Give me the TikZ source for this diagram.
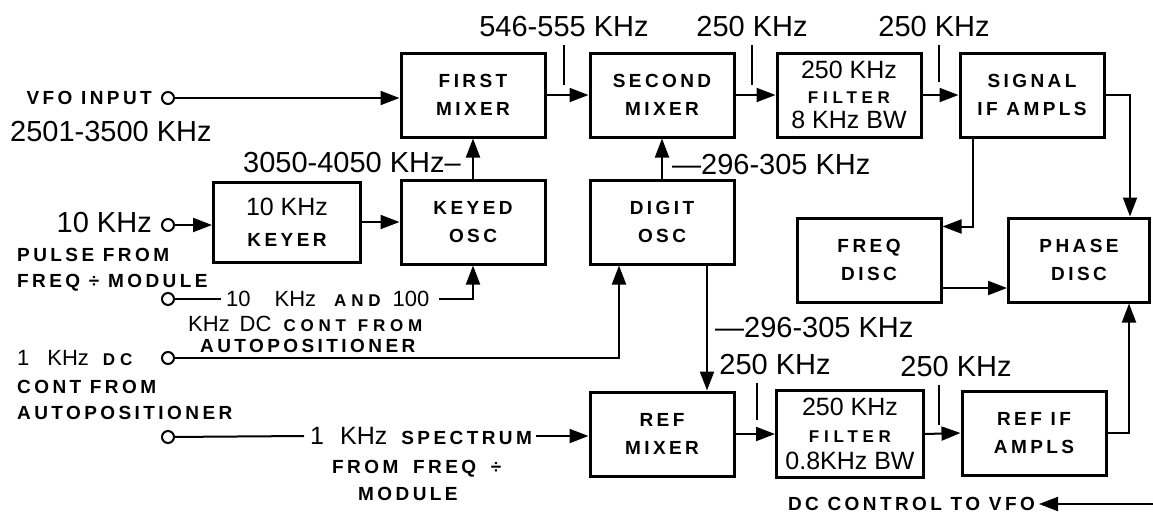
\documentclass[tikz,border=0pt]{standalone}
\usepackage{fontspec}
\setmainfont{Liberation Sans}
\newfontfamily\capsfont{Liberation Sans}[LetterSpace=18]
\newfontfamily\widecaps{Liberation Sans}[LetterSpace=28]
\usetikzlibrary{arrows.meta}

\newcommand{\numfont}{\normalfont\fontsize{29}{29}\selectfont}
\newcommand{\boxnum}{\normalfont\fontsize{25}{25}\selectfont}
\newcommand{\midnum}{\normalfont\fontsize{22}{22}\selectfont}
\newcommand{\lblfont}{\capsfont\bfseries\fontsize{19}{28}\selectfont}
\newcommand{\lblsmall}{\capsfont\bfseries\fontsize{19}{20}\selectfont}
\newcommand{\smlfont}{\widecaps\bfseries\fontsize{17}{17}\selectfont}

\begin{document}
\begin{tikzpicture}[x=1pt, y=-1pt,
  blk/.style={draw, line width=3pt, minimum width=\bw pt, minimum height=\bh pt,
              inner sep=0pt, align=center, font=\lblfont},
  flow/.style={line width=2pt, -{Triangle[length=19pt,width=14pt]}},
  wire/.style={line width=2pt},
  jack/.style={circle, draw, line width=2pt, minimum size=12pt, inner sep=0pt},
  leader/.style={line width=1.5pt},
  caps/.style={font=\lblfont, inner sep=0pt},
  num/.style={font=\numfont, inner sep=0pt}]

% --- box size ---
\pgfmathsetmacro{\bw}{144}
\pgfmathsetmacro{\bh}{84}

\useasboundingbox (0,0) rectangle (1153,515);

% --- blocks ---
\foreach \nm/\cx/\cy/\txt in
  {first/473/95/{FIRST\\MIXER}, second/662/95/{SECOND\\MIXER},
   sigif/1032/95/{SIGNAL\\IF AMPLS},
   keyed/473/222/{KEYED\\OSC}, digit/662/222/{DIGIT\\OSC},
   freq/869/260/{FREQ\\DISC},
   refmix/662/434/{REF\\MIXER}, refif/1034/433/{REF IF\\AMPLS}}{%
  \node[blk] (\nm) at (\cx,\cy) {\txt};
}
\node[blk, minimum width=141pt] (phase) at (1079,260) {PHASE\\DISC};
\node[blk, minimum width=147pt, minimum height=80pt,
      font=\lblfont\fontsize{19}{31}\selectfont] (keyer) at (287,222)
  {{\boxnum 10 KHz}\\KEYER};
\node[blk, font=\widecaps\bfseries\fontsize{17}{25}\selectfont] (filt1) at (849,95)
  {{\boxnum 250 KHz}\\FILTER\\{\boxnum 8 KHz BW}};
\node[blk, minimum width=147pt, minimum height=87pt,
      font=\widecaps\bfseries\fontsize{17}{27}\selectfont] (filt2) at (850,434)
  {{\boxnum 250 KHz}\\FILTER\\{\boxnum 0.8KHz BW}};

% --- input jacks ---
\foreach \nm/\cy in {jVfo/98, jPulse/225, jTen/299, jOne/358, jSpec/437}
  \node[jack] (\nm) at (168,\cy) {};

% --- left labels ---
\node[caps, anchor=east] (lVfo) at (152,98) {VFO INPUT};
\node[num, anchor=west] (lRange) at (10,132) {2501-3500 KHz};
\node[num, anchor=east] (lTen) at (152,223) {10 KHz};
\node[caps, anchor=west] (lPulse) at (17,255) {PULSE FROM};
\node[caps, anchor=west] (lMod) at (17,283) {FREQ ÷ MODULE};
\node[anchor=west, inner sep=0pt] (lOne) at (17,358)
  {\midnum 1\hspace{18pt}KHz\hspace{14pt}{\smlfont DC}};
\node[caps, anchor=west] (lCont) at (17,387) {CONT FROM};
\node[caps, anchor=west] (lAuto) at (17,413) {AUTOPOSITIONER};

\node[anchor=west, inner sep=0pt] (tTen) at (226,299)
  {\midnum 10\hspace{24pt}KHz\hspace{18pt}{\smlfont AND}\hspace{12pt}100};
\node[anchor=west, inner sep=0pt] (tTenB) at (188,324)
  {\midnum KHz\hspace{10pt}DC\hspace{12pt}{\smlfont CONT\hspace{12pt}FROM}};
\node[caps, anchor=west] (tTenC) at (200,346) {AUTOPOSITIONER};
\node[anchor=west, inner sep=0pt] (tSpec) at (310,436)
  {\boxnum 1\hspace{16pt}KHz\hspace{14pt}{\lblsmall SPECTRUM}};
\node[caps, anchor=west] (tSpecB) at (332,469) {FROM\hspace{6pt} FREQ\hspace{6pt} ÷};
\node[caps, anchor=west] (tSpecC) at (358,494) {MODULE};

% --- frequency labels ---
\node[num] (fA) at (564,27) {546-555 KHz};
\node[num] (fB) at (752,27) {250 KHz};
\node[num] (fC) at (934,27) {250 KHz};
\node[num] (fD) at (775,365) {250 KHz};
\node[num] (fE) at (956,367) {250 KHz};
\node[num, anchor=east] (fKey) at (461,163) {3050-4050 KHz–};
\node[num, anchor=west] (fDig) at (672,165) {—296-305 KHz};
\node[num, anchor=west] (fRef) at (715,328) {—296-305 KHz};

\draw[leader] ([yshift=-8pt]fA.south) -- ++(0,40);
\draw[leader] ([yshift=-8pt]fB.south) -- ++(0,40);
\draw[leader] ([xshift=5pt,yshift=-8pt]fC.south) -- ++(0,37);
\draw[leader] ([xshift=-18pt,yshift=-8pt]fD.south) -- ++(0,37);
\draw[leader] ([xshift=-17pt,yshift=-8pt]fE.south) -- ++(0,40);

% --- signal path ---
\draw[flow] (jVfo) -- (jVfo -| first.west);
\draw[flow] (first.east) -- (second.west);
\draw[flow] (second.east) -- (filt1.west);
\draw[flow] (filt1.east) -- (sigif.west);
\draw[flow] (sigif.east) -| ([xshift=51pt]phase.north);
\draw[flow] ([xshift=-59pt]sigif.south) |- ([yshift=-10pt]freq.north east);
\draw[flow] ([yshift=-28pt]freq.east) -- ([yshift=-28pt]phase.west);
\draw[flow] (refif.east) -| ([xshift=50pt]phase.south);

% --- oscillators ---
\draw[flow] (jPulse) -- (jPulse -| keyer.west);
\draw[flow] (keyer.east) -- (keyed.west);
\draw[flow] (keyed.north) -- (first.south);
\draw[flow] (digit.north) -- (second.south);
\draw[wire] (jTen) -- ([xshift=-5pt]tTen.west);
\draw[flow] ([xshift=10pt]tTen.east) -| (keyed.south);
\draw[flow] (jOne) -| ([xshift=-43pt]digit.south);
\draw[flow] ([xshift=45pt]digit.south) -- ([xshift=45pt]refmix.north);

% --- reference path ---
\draw[wire] (jSpec) -- ([xshift=-6pt]tSpec.west);
\draw[flow] ([xshift=4pt]tSpec.east) -- (tSpec.east -| refmix.west);
\draw[flow] (refmix.east) -- (filt2.west);
\draw[flow] (filt2.east) -- (refif.west);

% --- return to vfo ---
\node[caps, anchor=east] (dcv) at (1035,504) {DC CONTROL TO VFO};
\coordinate (vfoRet) at (1153,504);
\draw[flow] (vfoRet) -- ([xshift=4pt]dcv.east);

\end{tikzpicture}
\end{document}
